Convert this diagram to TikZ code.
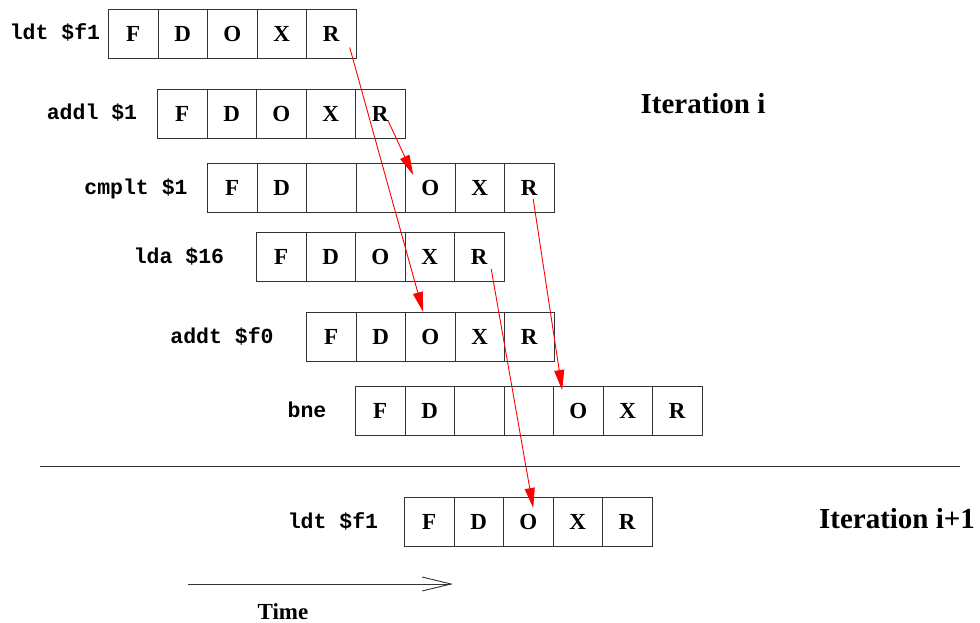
\documentclass[tikz,border=0pt]{standalone}
\usepackage{fontspec}
\setmainfont{Liberation Serif}
\newfontfamily\monof{Liberation Mono}
\usetikzlibrary{arrows.meta,calc}
\begin{document}
\begin{tikzpicture}[x=1pt,y=-1pt,
  cell/.style={draw=black!80, line width=0.9pt, minimum width=49.5pt, minimum height=49pt, inner sep=0pt, font=\fontsize{23}{23}\selectfont\bfseries, anchor=north west},
  lbl/.style={font=\monof\fontsize{21.5}{21.5}\selectfont\bfseries, anchor=base, inner sep=0pt},
  dep/.style={red, line width=0.9pt, -{Triangle[length=20pt,width=10pt]}},
  itlbl/.style={font=\fontsize{29}{29}\selectfont\bfseries, inner sep=0pt},
  timelbl/.style={font=\fontsize{23}{23}\selectfont\bfseries, inner sep=0pt},
  rule/.style={draw=black!80, line width=0.9pt}]
\useasboundingbox (0,0) rectangle (980,623);
% rows of cells
\foreach \t [count=\i] in {F,D,O,X,R} \node[cell] (r1c\i) at ({108+(\i-1)*49.5},9) {\t};
\foreach \t [count=\i] in {F,D,O,X,R} \node[cell] (r2c\i) at ({157+(\i-1)*49.5},89) {\t};
\foreach \t [count=\i] in {F,D,{},{},O,X,R} \node[cell] (r3c\i) at ({207+(\i-1)*49.5},163) {\t};
\foreach \t [count=\i] in {F,D,O,X,R} \node[cell] (r4c\i) at ({256+(\i-1)*49.5},232) {\t};
\foreach \t [count=\i] in {F,D,O,X,R} \node[cell] (r5c\i) at ({306+(\i-1)*49.5},312) {\t};
\foreach \t [count=\i] in {F,D,{},{},O,X,R} \node[cell] (r6c\i) at ({355+(\i-1)*49.5},386) {\t};
\foreach \t [count=\i] in {F,D,O,X,R} \node[cell] (r7c\i) at ({404+(\i-1)*49.5},497) {\t};
% labels
\node[lbl] (l1) at (55,40) {ldt \$f1};
\node[lbl] (l2) at (92,120) {addl \$1};
\node[lbl] (l3) at (136,194.5) {cmplt \$1};
\node[lbl] (l4) at (179,263) {lda \$16};
\node[lbl] (l5) at (222,343) {addt \$f0};
\node[lbl] (l6) at (307,417) {bne};
\node[lbl] (l7) at (333,528.5) {ldt \$f1};
\node[itlbl] (it1) at (703,104) {Iteration i};
\node[itlbl] (it2) at (897,519) {Iteration i+1};
% dependencies
\draw[dep] ([shift={(18.5,13.5)}]r1c5.center) -- ([shift={(-7,0)}]r5c3.north);
\draw[dep] ([shift={(8,7)}]r2c5.center) -- ([shift={(-17,12)}]r3c5.north);
\draw[dep] ([shift={(4,11)}]r3c7.center) -- ([shift={(-16,4)}]r6c5.north);
\draw[dep] ([shift={(12,12)}]r4c5.center) -- ([shift={(5,11)}]r7c3.north);
% separator
\coordinate (sepL) at (40,466);
\coordinate (sepR) at (960,466);
\draw[rule] (sepL) -- (sepR);
% time arrow
\coordinate (t0) at (188,584);
\coordinate (t1) at (453,584);
\draw[rule, -{Straight Barb[length=29pt,width=14pt]}] (t0) -- (t1);
\node[timelbl] (time) at (283,612) {Time};
\end{tikzpicture}
\end{document}
